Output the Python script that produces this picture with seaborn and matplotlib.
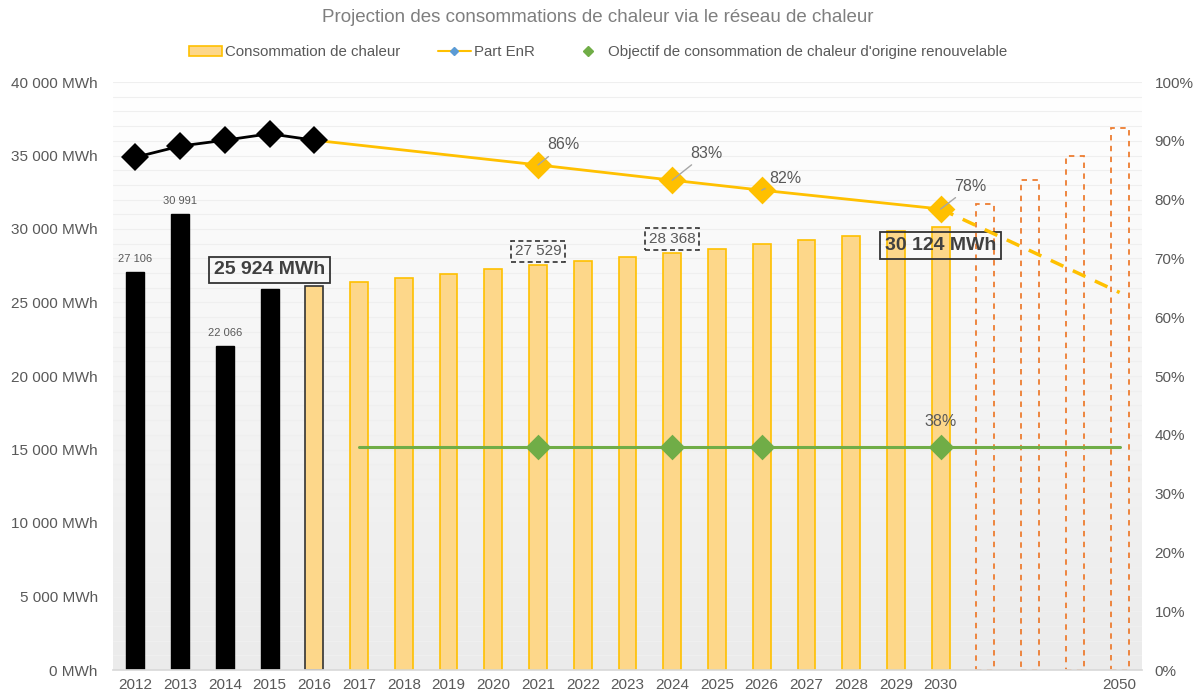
import numpy as np
import pandas as pd
import seaborn as sns
import matplotlib.pyplot as plt
from matplotlib.colors import LinearSegmentedColormap
from matplotlib.lines import Line2D
from matplotlib.patches import Patch
from matplotlib.ticker import MultipleLocator, FuncFormatter

# --- data ---
annees = ["2012", "2013", "2014", "2015", "2016", "2017", "2018", "2019", "2020",
          "2021", "2022", "2023", "2024", "2025", "2026", "2027", "2028", "2029",
          "2030", "", " ", "  ", "2050"]
conso_mwh = [27106, 30991, 22066, 25924, 26130, 26410, 26690, 26970, 27250,
             27529, 27810, 28090, 28368, 28660, 28950, 29240, 29540, 29830,
             30124, 31700, 33330, 34990, 36850]
type_barre = (["historique"] * 4 + ["reference"] + ["projection"] * 14
              + ["tendance"] * 4)

# part EnR (%)
hist_annees = ["2012", "2013", "2014", "2015", "2016"]
hist_part = [87.2, 89.1, 90.1, 91.2, 90.1]
proj_annees = ["2016", "2021", "2024", "2026", "2030"]
proj_part = [90.1, 85.9, 83.3, 81.6, 78.4]
tend_annees = ["2030", "2050"]
tend_part = [78.4, 64.2]

# objectif renouvelable (%)
objectif_pct = 38
objectif_annees = ["2017", "2050"]
objectif_marqueurs = ["2021", "2024", "2026", "2030"]

petits_labels = ["2012", "2013", "2014"]
gros_labels = ["2015", "2030"]
labels_pointilles = ["2021", "2024"]

GOLD = "#FFC000"
FILL = "#FDD78A"
ORANGE = "#ED7D31"
GREEN = "#70AD47"
GREY_TXT = "#595959"

sns.set_theme(style="white")
plt.rcParams["font.family"] = ["Liberation Sans", "DejaVu Sans"]


def fmt_milliers(v):
    return f"{int(round(v)):,}".replace(",", " ")


def pos(annee):
    return annees.index(annee)


fig = plt.figure(figsize=(11.96, 6.97), dpi=100)
ax = fig.add_axes([113 / 1196, 1 - 670 / 697, (1142 - 113) / 1196, (670 - 82) / 697])

# background gradient (white -> light grey)
cmap = LinearSegmentedColormap.from_list("bg", ["#ebebeb", "#ffffff"])
ax.imshow(np.linspace(0, 1, 256).reshape(-1, 1), cmap=cmap, origin="lower",
          extent=[0, 1, 0, 1], transform=ax.transAxes, aspect="auto", zorder=0)

df = pd.DataFrame({"pos": range(len(annees)), "conso": conso_mwh, "type": type_barre})
sns.barplot(data=df, x="pos", y="conso", ax=ax, width=0.4, color=FILL, zorder=2)

for patch, t in zip(ax.patches, type_barre):
    if t == "historique":
        patch.set_facecolor("black")
        patch.set_edgecolor("black")
    elif t == "reference":
        patch.set_facecolor(FILL)
        patch.set_edgecolor("#333333")
        patch.set_linewidth(1.2)
    elif t == "projection":
        patch.set_facecolor(FILL)
        patch.set_edgecolor(GOLD)
        patch.set_linewidth(1.2)
    else:
        patch.set_facecolor("none")
        patch.set_edgecolor(ORANGE)
        patch.set_linestyle((0, (3, 3)))
        patch.set_linewidth(1.3)

ax.set_xlim(-0.5, len(annees) - 0.5)
ax.set_ylim(0, 40000)
ax.set_xticks(range(len(annees)))
ax.set_xticklabels(annees)
ax.set_xlabel("")
ax.set_ylabel("")
ax.yaxis.set_major_locator(MultipleLocator(5000))
ax.yaxis.set_minor_locator(MultipleLocator(1000))
ax.yaxis.set_major_formatter(FuncFormatter(lambda v, p: fmt_milliers(v) + " MWh"))
ax.grid(axis="y", which="both", color="#efefef", linewidth=0.8)
ax.set_axisbelow(True)
ax.tick_params(axis="y", which="both", length=0, pad=11, labelsize=11, labelcolor=GREY_TXT)
ax.tick_params(axis="x", length=0, pad=6, labelsize=11, labelcolor=GREY_TXT)
for s in ["top", "left", "right"]:
    ax.spines[s].set_visible(False)
ax.spines["bottom"].set_color("#d9d9d9")

# bar labels
for a in petits_labels:
    ax.annotate(fmt_milliers(conso_mwh[pos(a)]), (pos(a), conso_mwh[pos(a)]),
                xytext=(0, 13), textcoords="offset pixels", ha="center", va="center",
                fontsize=8, color=GREY_TXT, zorder=5)

gros_offsets = {"2015": 19, "2030": -18}
for a in gros_labels:
    ax.annotate(fmt_milliers(conso_mwh[pos(a)]) + " MWh", (pos(a), conso_mwh[pos(a)]),
                xytext=(0, gros_offsets[a]), textcoords="offset pixels",
                ha="center", va="center", fontsize=14, fontweight="bold", color="#404040",
                bbox=dict(boxstyle="square,pad=0.25", fc="none", ec="#333333", lw=1.3),
                zorder=6)

for a in labels_pointilles:
    ax.annotate(fmt_milliers(conso_mwh[pos(a)]), (pos(a), conso_mwh[pos(a)]),
                xytext=(0, 14), textcoords="offset pixels", ha="center", va="center",
                fontsize=11, color=GREY_TXT,
                bbox=dict(boxstyle="square,pad=0.25", fc="none", ec="#333333",
                          lw=1.2, ls=(0, (3, 2))),
                zorder=6)

# secondary axis: percentages
ax2 = ax.twinx()
ax2.set_ylim(0, 100)
ax2.yaxis.set_major_locator(MultipleLocator(10))
ax2.yaxis.set_major_formatter(FuncFormatter(lambda v, p: f"{int(v)}%"))
ax2.tick_params(axis="y", which="both", length=0, pad=9, labelsize=11, labelcolor=GREY_TXT)
for s in ax2.spines.values():
    s.set_visible(False)
ax2.grid(False)

# objectif line + markers
sns.lineplot(x=[pos(a) for a in objectif_annees], y=[objectif_pct] * 2, ax=ax2,
             color=GREEN, linewidth=2.2, zorder=3)
sns.scatterplot(x=[pos(a) for a in objectif_marqueurs], y=[objectif_pct] * len(objectif_marqueurs),
                ax=ax2, color=GREEN, marker="D", s=170, linewidth=0, zorder=4)

# part EnR projection + trend
sns.lineplot(x=[pos(a) for a in proj_annees], y=proj_part, ax=ax2, color=GOLD,
             linewidth=2, zorder=3)
ax2.plot([pos(a) for a in tend_annees], tend_part, color=GOLD, linewidth=2.5,
         linestyle=(0, (4, 3)), zorder=3)
sns.scatterplot(x=[pos(a) for a in proj_annees[1:]], y=proj_part[1:], ax=ax2,
                color=GOLD, marker="D", s=200, linewidth=0, zorder=4)

# historical part EnR
sns.lineplot(x=[pos(a) for a in hist_annees], y=hist_part, ax=ax2, color="black",
             linewidth=2, marker="D", markersize=14, markeredgewidth=0, zorder=5)

ax2.set_xlim(-0.5, len(annees) - 0.5)
ax2.set_ylabel("")

pct_offsets = {"2021": (25, 20), "2024": (34, 27), "2026": (24, 12), "2030": (30, 23)}
for a, v in zip(proj_annees[1:], proj_part[1:]):
    ax2.annotate(f"{round(v)}%", (pos(a), v), xytext=pct_offsets[a],
                 textcoords="offset pixels", ha="center", va="center", fontsize=11.5,
                 color=GREY_TXT, zorder=6,
                 arrowprops=dict(arrowstyle="-", color="#a6a6a6", lw=1,
                                 shrinkA=1, shrinkB=0))
ax2.annotate(f"{objectif_pct}%", (pos("2030"), objectif_pct), xytext=(0, 25),
             textcoords="offset pixels", ha="center", va="center", fontsize=11.5,
             color=GREY_TXT, zorder=6)

# title and legend
fig.text(0.5, 1 - 18 / 697, "Projection des consommations de chaleur via le réseau de chaleur",
         ha="center", va="center", fontsize=13.5, color="#7f7f7f")
handles = [
    Patch(facecolor=FILL, edgecolor=GOLD, linewidth=1.2),
    Line2D([], [], color=GOLD, linewidth=1.5, marker="D", markersize=4,
           markerfacecolor="#5B9BD5", markeredgecolor="#5B9BD5"),
    Line2D([], [], linestyle="none", marker="D", markersize=5, color=GREEN),
]
fig.legend(handles, ["Consommation de chaleur", "Part EnR",
                     "Objectif de consommation de chaleur d'origine renouvelable"],
           loc="center", bbox_to_anchor=(0.5, 1 - 52 / 697), ncol=3, frameon=False,
           fontsize=10.8, labelcolor=GREY_TXT, handlelength=2.2, handletextpad=0.2,
           columnspacing=2.5)

fig.savefig("out.png", dpi=100)
